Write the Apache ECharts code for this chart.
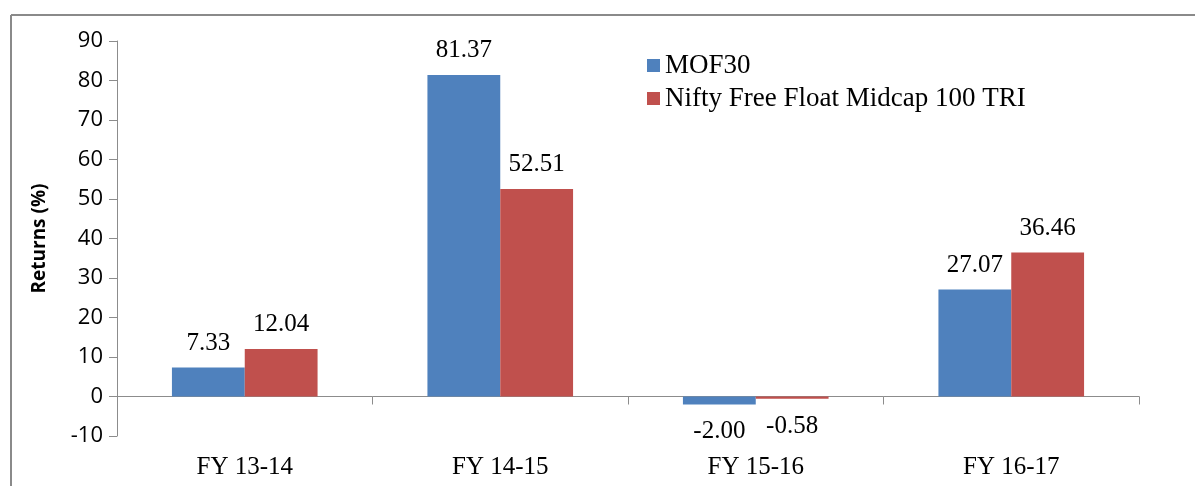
<!DOCTYPE html>
<html>
<head>
<meta charset="utf-8">
<script src="https://cdn.jsdelivr.net/npm/echarts@6/dist/echarts.min.js"></script>
<style>
  html, body { margin: 0; padding: 0; background: #fff; }
  #chart { width: 1195px; height: 486px; }
</style>
</head>
<body>
<div id="chart"></div>
<script>
const categories = ["FY 13-14", "FY 14-15", "FY 15-16", "FY 16-17"];
const mof30 = [7.33, 81.37, -2.00, 27.07];
const nifty = [12.04, 52.51, -0.58, 36.46];
const seriesNames = ["MOF30", "Nifty Free Float Midcap 100 TRI"];

const serif = "'Liberation Serif', 'Times New Roman', serif";
const sans = "'Open Sans', 'Liberation Sans', sans-serif";

const chart = echarts.init(document.getElementById("chart"));

function valueLabel() {
  return {
    show: true,
    fontFamily: serif,
    fontSize: 25,
    color: "#000",
    distance: 12,
    formatter: p => p.value.toFixed(2),
    position: "top"
  };
}

function makeData(values) {
  // negative values get their label under the bar
  return values.map(v => v < 0
    ? { value: v, label: { position: "bottom", distance: 15 } }
    : v);
}

chart.setOption({
  backgroundColor: "#fff",
  animation: false,
  grid: { left: 117, right: 56, top: 41, bottom: 50, outerBoundsMode: "none", containLabel: false },
  legend: {
    orient: "vertical",
    left: 642,
    top: 47,
    itemWidth: 13,
    itemHeight: 13,
    itemGap: 6,
    icon: "rect",
    textStyle: { fontFamily: serif, fontSize: 27, color: "#000" },
    data: seriesNames
  },
  xAxis: [
    {
      // axis line at zero with the ticks
      type: "category",
      data: categories,
      axisLine: { onZero: true, lineStyle: { color: "#8c8c8c", width: 1 } },
      axisTick: { show: true, length: 8, lineStyle: { color: "#8c8c8c" } },
      axisLabel: { show: false }
    },
    {
      // category names along the bottom
      type: "category",
      data: categories,
      position: "bottom",
      axisLine: { show: false, onZero: false },
      axisTick: { show: false },
      axisLabel: { margin: 19, fontFamily: serif, fontSize: 25, color: "#000" }
    }
  ],
  yAxis: {
    type: "value",
    min: -10,
    max: 90,
    interval: 10,
    name: "Returns (%)",
    nameLocation: "middle",
    nameGap: 68,
    nameTextStyle: { fontFamily: sans, fontSize: 19, fontWeight: "bold", color: "#000" },
    axisLine: { show: true, lineStyle: { color: "#8c8c8c" } },
    axisTick: { show: true, length: 8, lineStyle: { color: "#8c8c8c" } },
    axisLabel: { margin: 14, fontFamily: sans, fontSize: 22, color: "#000" },
    splitLine: { show: false }
  },
  series: [
    {
      name: seriesNames[0],
      type: "bar",
      data: makeData(mof30),
      itemStyle: { color: "#4F81BD" },
      barGap: "0%",
      barCategoryGap: "43%",
      label: valueLabel()
    },
    {
      name: seriesNames[1],
      type: "bar",
      data: makeData(nifty),
      itemStyle: { color: "#C0504D" },
      label: valueLabel()
    }
  ],
  graphic: [
    { type: "line", shape: { x1: 11, y1: 15, x2: 1195, y2: 15 }, style: { stroke: "#8a8a8a", lineWidth: 2 } },
    { type: "line", shape: { x1: 11, y1: 15, x2: 11, y2: 486 }, style: { stroke: "#8a8a8a", lineWidth: 2 } }
  ]
});
</script>
</body>
</html>
